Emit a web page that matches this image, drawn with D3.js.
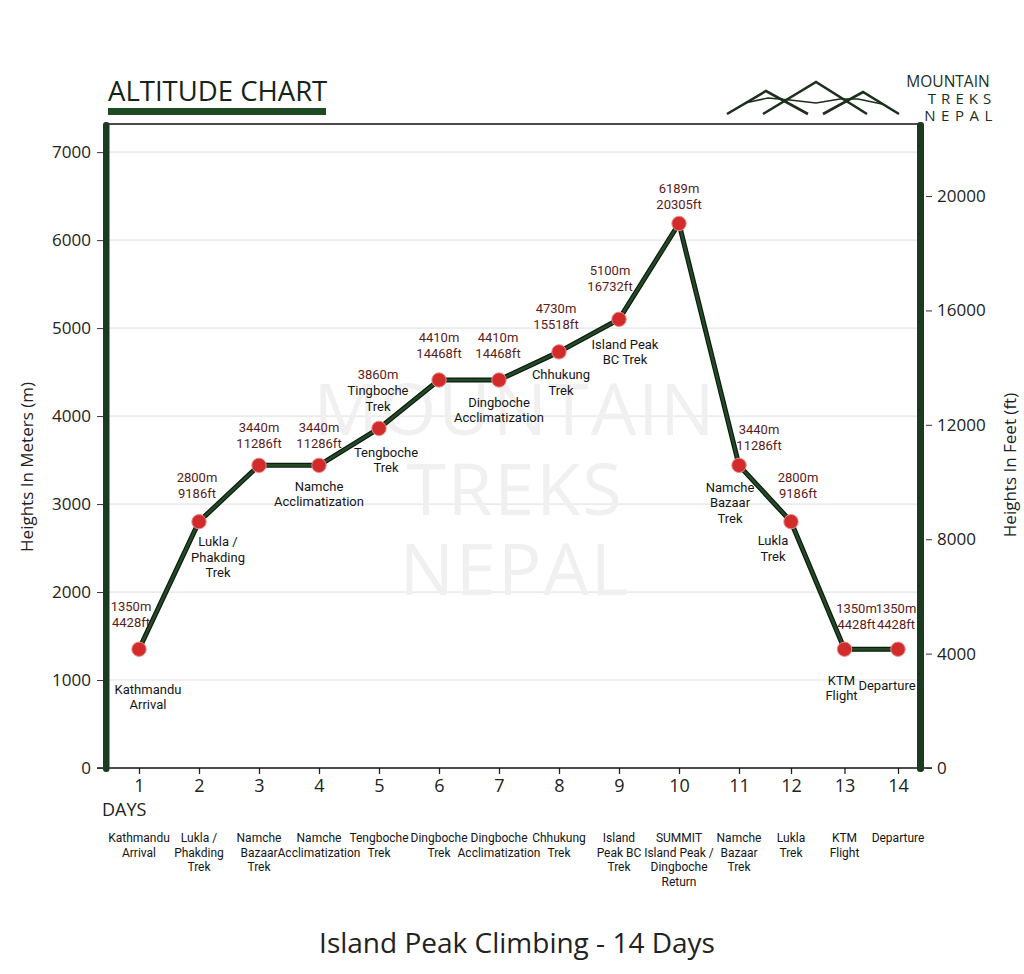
<!DOCTYPE html>
<html><head><meta charset="utf-8">
<script src="https://cdn.jsdelivr.net/npm/d3@7"></script>
<style>
body{margin:0;background:#fff}
svg{display:block}
text{font-family:Roboto,"Open Sans",sans-serif}
</style>
</head><body>
<svg id="c" width="1024" height="974"></svg>
<script>
// ---------- DATA ----------
const days = [1,2,3,4,5,6,7,8,9,10,11,12,13,14];
const altitudeM = [1350,2800,3440,3440,3860,4410,4410,4730,5100,6189,3440,2800,1350,1350];
const altitudeLabels = [
  ["1350m","4428ft"],["2800m","9186ft"],["3440m","11286ft"],["3440m","11286ft"],
  ["3860m","Tingboche","Trek"],["4410m","14468ft"],["4410m","14468ft"],["4730m","15518ft"],
  ["5100m","16732ft"],["6189m","20305ft"],["3440m","11286ft"],["2800m","9186ft"],
  ["1350m","4428ft"],["1350m","4428ft"]
];
const stopLabels = [
  ["Kathmandu","Arrival"],["Lukla /","Phakding","Trek"],[],["Namche","Acclimatization"],
  ["Tengboche","Trek"],[],["Dingboche","Acclimatization"],["Chhukung","Trek"],
  ["Island Peak","BC Trek"],[],["Namche","Bazaar","Trek"],["Lukla","Trek"],
  ["KTM","Flight"],["Departure"]
];
const dayNames = [
  ["Kathmandu","Arrival"],["Lukla /","Phakding","Trek"],["Namche","Bazaar","Trek"],
  ["Namche","Acclimatization"],["Tengboche","Trek"],["Dingboche","Trek"],
  ["Dingboche","Acclimatization"],["Chhukung","Trek"],["Island","Peak BC","Trek"],
  ["SUMMIT","Island Peak /","Dingboche","Return"],["Namche","Bazaar","Trek"],
  ["Lukla","Trek"],["KTM","Flight"],["Departure"]
];
const meterTicks = [0,1000,2000,3000,4000,5000,6000,7000];
const feetTicks = [0,4000,8000,12000,16000,20000];
const watermarkLines = ["MOUNTAIN","TREKS","NEPAL"];
const logoLines = ["MOUNTAIN","TREKS","NEPAL"];
const chartTitle = "ALTITUDE CHART";
const chartSubtitle = "Island Peak Climbing - 14 Days";
const yTitleLeft = "Heights In Meters (m)";
const yTitleRight = "Heights In Feet (ft)";
const xTitle = "DAYS";

// ---------- LAYOUT (label offsets relative to each point) ----------
const aboveOffset = [[-8,-27],[-2,-28],[0,-22],[0,-22],[-1,-22],[0,-27],[-1,-27],[-3,-27],[-9,-33],[0,-19],[20,-20],[7,-28],[12,-25],[-2,-25]];
const belowOffset = [[9,40],[19,20],null,[0,21],[7,24],null,[0,22],[2,23],[6,25],null,[-9,22],[-18,19],[-3,31],[-11,36]];

const svg = d3.select("#c");
const plot = {left:106, right:920, top:124, bottom:768};

const x = d3.scaleLinear().domain([1,10,11,12,14]).range([139,679,739,791,898]);
const yM = d3.scaleLinear().domain([0,7320]).range([plot.bottom, plot.top]);
const yF = d3.scaleLinear().domain([0,22520]).range([plot.bottom, plot.top]);

const green = "#1c3a20";
const fmt = d3.format("d");

// gridlines
svg.append("g").selectAll("line").data(meterTicks.filter(d=>d>0)).join("line")
  .attr("x1", plot.left+3).attr("x2", plot.right-3)
  .attr("y1", d=>yM(d)).attr("y2", d=>yM(d))
  .attr("stroke","#e4e4e4").attr("stroke-width",1.2);

// watermark
svg.append("g").selectAll("text").data(watermarkLines).join("text")
  .attr("x", 515).attr("y", (d,i)=>410+i*80).attr("dy","0.35em")
  .attr("text-anchor","middle").attr("fill","#f0f0f0")
  .style("font-family","'Open Sans',sans-serif").style("font-size","72px").style("letter-spacing","2px")
  .text(d=>d);

// top border
svg.append("line").attr("x1",plot.left).attr("x2",plot.right).attr("y1",plot.top).attr("y2",plot.top)
  .attr("stroke","#111").attr("stroke-width",1.6);

// bottom axis
const xAxis = d3.axisBottom(x).tickValues(days).tickSize(6).tickPadding(5).tickFormat(fmt);
const gx = svg.append("g").attr("transform",`translate(0,${plot.bottom})`).call(xAxis);
gx.select(".domain").remove();
gx.selectAll(".tick line").attr("stroke","#222").attr("stroke-width",1.3);
gx.selectAll(".tick text").attr("fill","#222").style("font-size","18px").style("font-family","'Open Sans',sans-serif");
svg.append("line").attr("x1",97).attr("x2",932).attr("y1",plot.bottom).attr("y2",plot.bottom)
  .attr("stroke","#111").attr("stroke-width",1.6);

// left axis
const gyl = svg.append("g").attr("transform",`translate(${plot.left-3},0)`)
  .call(d3.axisLeft(yM).tickValues(meterTicks).tickSize(6).tickPadding(6).tickFormat(fmt));
gyl.select(".domain").remove();
gyl.selectAll(".tick line").attr("stroke","#333");
gyl.selectAll(".tick text").attr("fill","#222").style("font-size","17px").style("font-family","'Open Sans',sans-serif");

// right axis
const gyr = svg.append("g").attr("transform",`translate(${plot.right+6},0)`)
  .call(d3.axisRight(yF).tickValues(feetTicks).tickSize(6).tickPadding(5).tickFormat(fmt));
gyr.select(".domain").remove();
gyr.selectAll(".tick line").attr("stroke","#333");
gyr.selectAll(".tick text").attr("fill","#222").style("font-size","17px").style("font-family","'Open Sans',sans-serif");

// side bars
svg.append("rect").attr("x",plot.left-3).attr("y",plot.top-2).attr("width",6.5).attr("height",plot.bottom-plot.top+6)
  .attr("rx",3).attr("fill",green);
svg.append("rect").attr("x",plot.right-3).attr("y",plot.top-2).attr("width",7).attr("height",plot.bottom-plot.top+6)
  .attr("rx",3).attr("fill",green);

// line
const series = days.map((d,i)=>({day:d, alt:altitudeM[i]}));
const lineGen = d3.line().x(d=>x(d.day)).y(d=>yM(d.alt));
svg.append("path").datum(series).attr("d",lineGen).attr("fill","none")
  .attr("stroke","#0d1a0e").attr("stroke-width",5).attr("stroke-linejoin","round");
svg.append("path").datum(series).attr("d",lineGen).attr("fill","none")
  .attr("stroke","#234a27").attr("stroke-width",2.6).attr("stroke-linejoin","round");

// points
svg.append("g").selectAll("circle").data(series).join("circle")
  .attr("cx",d=>x(d.day)).attr("cy",d=>yM(d.alt)).attr("r",7.2)
  .attr("fill","#d12b2b").attr("stroke","#ee8a8a").attr("stroke-width",1);

// labels above / below points
const lh = 16;
series.forEach((d,i)=>{
  const lines = altitudeLabels[i];
  const [dx,dy] = aboveOffset[i];
  const px = x(d.day)+dx, py = yM(d.alt)+dy;
  lines.forEach((t,j)=>{
    const isVal = /\d(m|ft)$/.test(t);
    svg.append("text").attr("x",px).attr("y",py-(lines.length-1-j)*lh).attr("dy","0.35em")
      .attr("text-anchor","middle").attr("fill", isVal ? "#5a1b1b" : "#151515")
      .style("font-size","13px").text(t);
  });
  const below = stopLabels[i];
  if (below.length && belowOffset[i]) {
    const [bx,by] = belowOffset[i];
    below.forEach((t,j)=>{
      svg.append("text").attr("x",x(d.day)+bx).attr("y",yM(d.alt)+by+j*15.5).attr("dy","0.35em")
        .attr("text-anchor","middle").attr("fill","#151515")
        .style("font-size","13px").text(t);
    });
  }
});

// day names under axis
days.forEach((d,i)=>{
  dayNames[i].forEach((t,j)=>{
    svg.append("text").attr("x",x(d)).attr("y",838+j*14.6).attr("dy","0.35em")
      .attr("text-anchor","middle").attr("fill","#151515")
      .style("font-size","12px").text(t);
  });
});

// axis titles
svg.append("text").attr("transform","translate(27,467) rotate(-90)").attr("text-anchor","middle")
  .attr("dy","0.35em").attr("fill","#222").style("font-size","17px").style("font-family","'Open Sans',sans-serif").text(yTitleLeft);
svg.append("text").attr("transform","translate(1010,465) rotate(-90)").attr("text-anchor","middle")
  .attr("dy","0.35em").attr("fill","#222").style("font-size","17px").style("font-family","'Open Sans',sans-serif").text(yTitleRight);
svg.append("text").attr("x",102).attr("y",810).attr("dy","0.35em").attr("fill","#222")
  .style("font-size","18px").style("font-family","'Open Sans',sans-serif").text(xTitle);

// title
svg.append("text").attr("x",108).attr("y",101).attr("fill","#16231a")
  .style("font-size","27.5px").style("font-family","'Open Sans',sans-serif").text(chartTitle);
svg.append("rect").attr("x",108).attr("y",108).attr("width",218).attr("height",7).attr("fill","#1e4a24");

// subtitle
svg.append("text").attr("x",517).attr("y",943).attr("dy","0.35em").attr("text-anchor","middle").attr("fill","#222")
  .style("font-size","28px").style("font-family","'Open Sans',sans-serif").text(chartSubtitle);

// logo
const logo = svg.append("g").attr("fill","none").attr("stroke","#1b2f1c").attr("stroke-width",2.6).attr("stroke-linecap","butt");
[[[727,114],[766,91],[808,114]],[[763,114],[816,82],[867,114]],[[823,114],[863,92],[899,114]]].forEach(p=>{
  logo.append("path").attr("d", d3.line()(p));
});
logo.append("path").attr("stroke-width",1.6)
  .attr("d", d3.line()([[745,103],[768,98],[790,100],[816,103],[840,99],[858,99],[882,104]]));
const lg = svg.append("g");
lg.append("text").attr("x",948).attr("y",82).attr("dy","0.35em").attr("text-anchor","middle").attr("fill","#1b2f1c")
  .style("font-size","15.5px").style("font-family","'Open Sans',sans-serif").text(logoLines[0]);
lg.append("text").attr("x",962).attr("y",99).attr("dy","0.35em").attr("text-anchor","middle").attr("fill","#1b2f1c")
  .style("font-size","15px").style("letter-spacing","5px").style("font-family","'Open Sans',sans-serif").text(logoLines[1]);
lg.append("text").attr("x",961).attr("y",116).attr("dy","0.35em").attr("text-anchor","middle").attr("fill","#1b2f1c")
  .style("font-size","15px").style("letter-spacing","5.5px").style("font-family","'Open Sans',sans-serif").text(logoLines[2]);
</script>
</body></html>
